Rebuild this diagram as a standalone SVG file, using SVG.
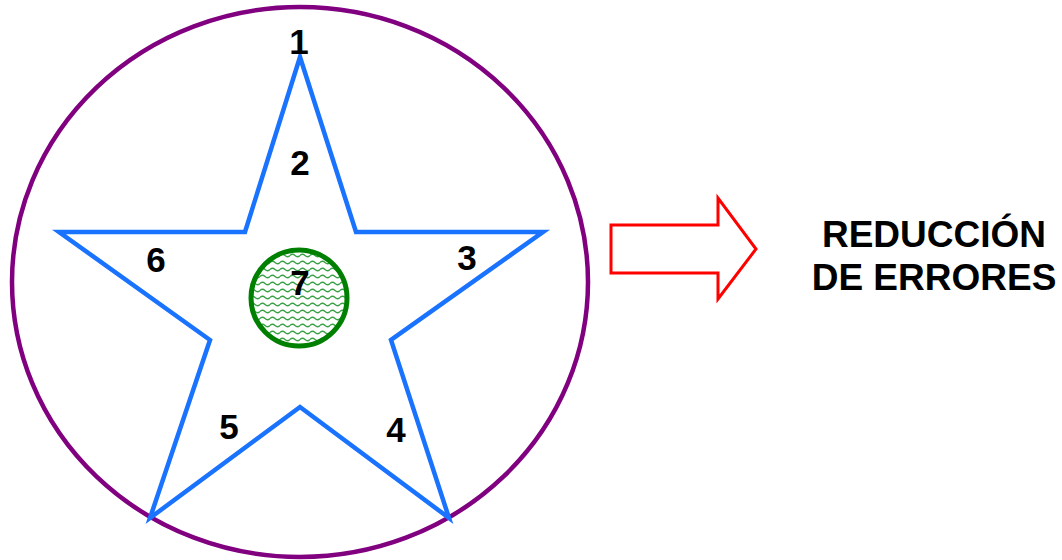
<svg xmlns="http://www.w3.org/2000/svg" width="1062" height="560" viewBox="0 0 1062 560">
<style>
.num{font-family:"Liberation Sans",Arial,sans-serif;font-weight:bold;font-size:35px;fill:#000;text-anchor:middle}
.title{font-family:"Liberation Sans",Arial,sans-serif;font-weight:bold;font-size:37px;fill:#000;text-anchor:middle}
</style>
<defs>
<pattern id="wave" width="10" height="7" patternUnits="userSpaceOnUse">
<path d="M0,3.5 Q2.5,1 5,3.5 T10,3.5" fill="none" stroke="#3aa046" stroke-width="1.3"/>
</pattern>
</defs>
<rect width="1062" height="560" fill="#fff"/>
<g id="outer-circle">
<ellipse cx="300" cy="282" rx="288" ry="275" fill="none" stroke="#800080" stroke-width="4.5"/>
</g>
<g id="star">
<polygon points="300,57 356,232 543,232 391,340 449,518 300,407 150,518 210,340 59,232 245,232" fill="none" stroke="#1a73ff" stroke-width="4.5" stroke-linejoin="miter"/>
</g>
<g id="center-circle">
<circle cx="299" cy="298" r="48" fill="#fff"/>
<circle cx="299" cy="298" r="48" fill="url(#wave)" stroke="#008000" stroke-width="5"/>
</g>
<g id="labels">
<text class="num" x="299" y="54">1</text>
<text class="num" x="300" y="175">2</text>
<text class="num" x="467" y="270">3</text>
<text class="num" x="396" y="442">4</text>
<text class="num" x="229" y="439">5</text>
<text class="num" x="156" y="272">6</text>
<text class="num" x="300" y="295">7</text>
</g>
<g id="connectors">
<polygon points="611,225 718,225 718,198 756,249 718,299 718,273 611,273" fill="#fff" stroke="#ff0000" stroke-width="3"/>
</g>
<g id="result">
<text class="title" x="934" y="247">REDUCCIÓN</text>
<text class="title" x="934" y="290">DE ERRORES</text>
</g>
</svg>
